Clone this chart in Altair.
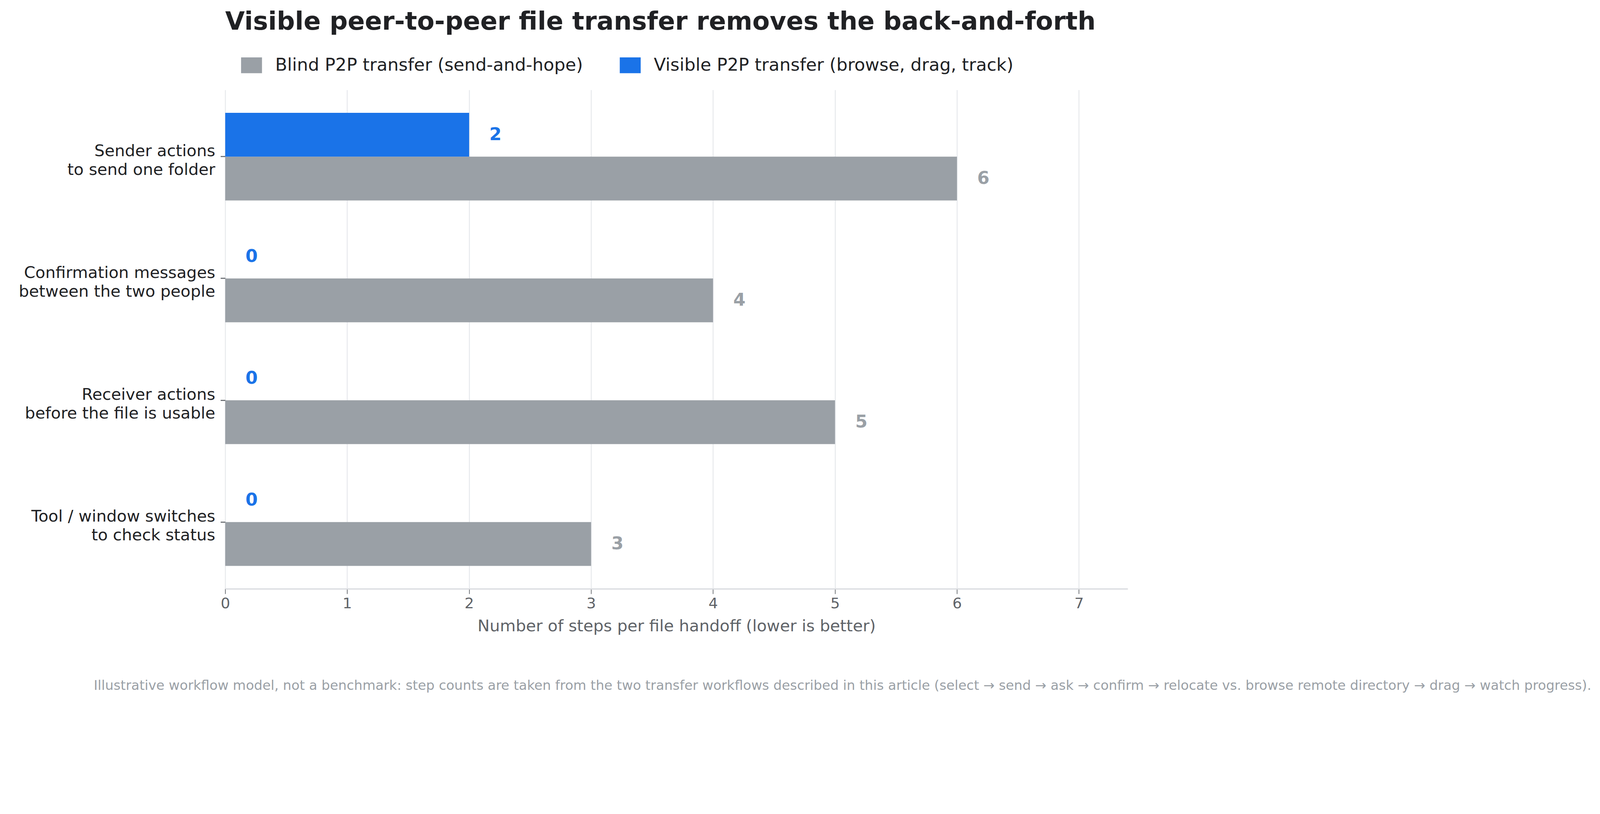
import altair as alt
import pandas as pd

# values
TASKS = [
    "Sender actions|to send one folder",
    "Confirmation messages|between the two people",
    "Receiver actions|before the file is usable",
    "Tool / window switches|to check status",
]
BLIND_STEPS = [6, 4, 5, 3]
VISIBLE_STEPS = [2, 0, 0, 0]
SERIES = ["Blind P2P transfer (send-and-hope)", "Visible P2P transfer (browse, drag, track)"]
COLORS = ["#9aa0a6", "#1a73e8"]
X_TICKS = [0, 1, 2, 3, 4, 5, 6, 7]

TITLE = "Visible peer-to-peer file transfer removes the back-and-forth"
X_TITLE = "Number of steps per file handoff (lower is better)"
FOOTNOTE = ("Illustrative workflow model, not a benchmark: step counts are taken from the two "
            "transfer workflows described in this article (select \u2192 send \u2192 ask \u2192 "
            "confirm \u2192 relocate vs. browse remote directory \u2192 drag \u2192 watch progress).")

FONT = "DejaVu Sans"

rows = []
for task, blind, visible in zip(TASKS, BLIND_STEPS, VISIBLE_STEPS):
    rows.append({"task": task, "series": SERIES[0], "steps": blind})
    rows.append({"task": task, "series": SERIES[1], "steps": visible})
df = pd.DataFrame(rows)

color = alt.Color(
    "series:N", title=None,
    scale=alt.Scale(domain=SERIES, range=COLORS),
    legend=alt.Legend(orient="none", legendX=47, legendY=-104, direction="horizontal",
                      columns=2, symbolType="M-1,-0.758H1V0.758H-1Z", symbolSize=3844,
                      symbolStrokeWidth=0, symbolOpacity=1, labelFontSize=52,
                      labelColor="#202124", labelOffset=39, columnPadding=108,
                      labelLimit=3000, labelFont=FONT))

y = alt.Y("task:N", sort=TASKS, title=None,
          scale=alt.Scale(paddingInner=0.28, paddingOuter=0.188),
          axis=alt.Axis(labelExpr="split(datum.label, '|')", labelFontSize=48,
                        labelColor="#202124", labelLineHeight=55, labelPadding=16,
                        labelOffset=-15, labelLimit=2000, tickSize=14, tickWidth=3,
                        tickColor="#5f6368", domain=False, grid=False))
y_off = alt.YOffset("series:N", scale=alt.Scale(domain=[SERIES[1], SERIES[0]]))
x = alt.X("steps:Q", title=X_TITLE,
          scale=alt.Scale(domain=[0, 7.4], nice=False),
          axis=alt.Axis(values=X_TICKS, format="d", labelFontSize=44, labelColor="#5f6368",
                        labelFlush=False,
                        tickColor="#5f6368", tickSize=15, tickWidth=2,
                        domainColor="#dadce0", domainWidth=4,
                        gridColor="#e8eaed", gridWidth=3, labelPadding=7,
                        titleFontSize=48, titleColor="#5f6368", titleFontWeight="normal",
                        titlePadding=21))

base = alt.Chart(df).encode(x=x, y=y, yOffset=y_off, color=color)
bars = base.mark_bar()
labels = base.mark_text(align="left", baseline="middle", dx=60, fontSize=52,
                        fontWeight="bold").encode(text="steps:Q")

note = alt.Chart(pd.DataFrame({"note": [FOOTNOTE]})).mark_text(
    align="center", baseline="alphabetic", fontSize=39.6, color="#9aa0a6"
).encode(x=alt.value(1829), y=alt.value(1778), text="note:N")

chart = (bars + labels + note).properties(
    width=2674, height=1479,
    title=alt.Title(TITLE, anchor="start", frame="group", fontSize=75, fontWeight="bold",
                    font=FONT, color="#202124", offset=59),
    padding={"left": 658, "top": 108, "right": 1390, "bottom": 310},
    autosize=alt.AutoSizeParams(type="none"),
).configure(font=FONT).configure_view(strokeWidth=0)

chart.save("out.html", embed_options={"renderer": "svg", "actions": False})
